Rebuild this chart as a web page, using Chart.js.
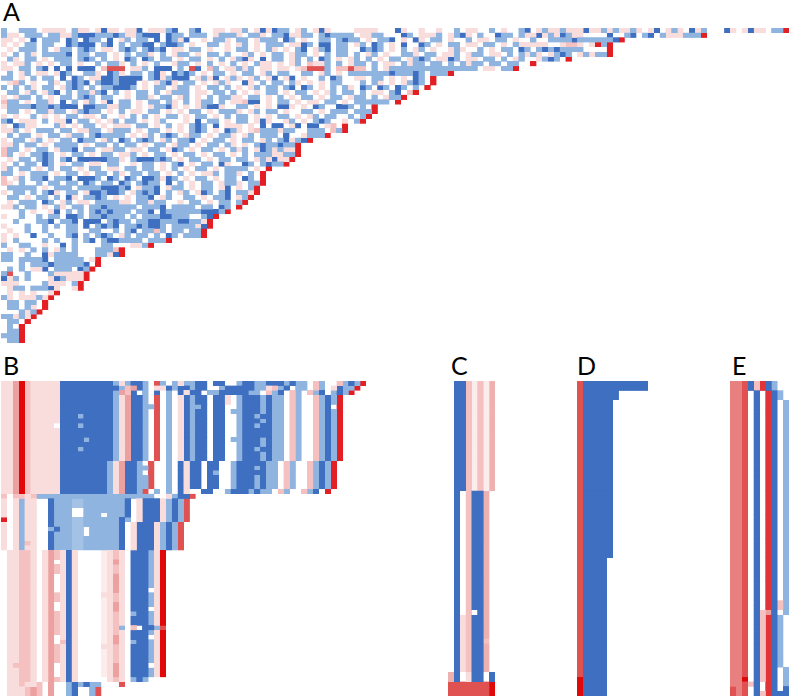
<!DOCTYPE html>
<html>
<head>
<meta charset="utf-8">
<script src="https://cdn.jsdelivr.net/npm/chart.js@4/dist/chart.umd.js"></script>
<style>
    html, body { margin: 0; padding: 0; background: #fff; }
    body { position: relative; width: 791px; height: 698px; overflow: hidden; }
    canvas { position: absolute; }
    .tag { position: absolute; font: 25px/28px Lato, sans-serif; color: #000; }
</style>
</head>
<body>
<div class="tag" style="left:3px;top:-3px">A</div>
<div class="tag" style="left:3px;top:351px">B</div>
<div class="tag" style="left:451px;top:351px">C</div>
<div class="tag" style="left:577px;top:351px">D</div>
<div class="tag" style="left:732px;top:351px">E</div>
<canvas id="chartA" width="788" height="315" style="left:1px;top:28px"></canvas>
<canvas id="chartB" width="365" height="315" style="left:1px;top:381px"></canvas>
<canvas id="chartC" width="47" height="315" style="left:448px;top:381px"></canvas>
<canvas id="chartD" width="71" height="315" style="left:577px;top:381px"></canvas>
<canvas id="chartE" width="59" height="315" style="left:730px;top:381px"></canvas>
<script>
// cell codes
const codes = {
    f: "#fcecec", a: "#f9dcdc", c: "#f4c0c0", h: "#efb0b0", d: "#eda0a0", i: "#e88080",
    e: "#e05252", j: "#e03438", r: "#e41f23", R: "#e00808",
    g: "#a3c2e6", b: "#8fb4e0", B: "#3f6fc0"
};

// Panel A: last (red) column per row
const aEnds = [133,119,105,103,103,103,96,90,87,76,73,73,72,70,68,67,63,63,62,61,58,58,55,52,50,50,50,49,48,45,44,44,44,43,43,42,41,40,38,36,35,35,34,34,28,25,20,20,16,16,15,14,14,13,13,9,8,7,7,6,5,4,3,3,3,3];

// Panel A: cells left of the red one, spaces only for counting
const aRows = [
    "b..bbb.aaa a.baa.aBaa .aaB.aaabB ..bB..aa.a ab.aBaBbb. ab.aBa.... aaaa...Ba. .a..a..b.a a..b.a.. bB.abaabaa aBaababaab a.aB.aba.B ab...Ba.aB aa.bb",
    "baa.bbb.bb aabBBBbbbB baabBBB.Bb b.bbb.abbb a.bba.bbBa abb.bBbbbb .aabb...Bb .aaab.abBa .b..Bbb. baaBabaBba a....B..bB .bB.baaabb b",
    "aa.a.B.bbb .Bb.Bbb.B. ab.bb.B.Bb aB..a.bba. bb.abbb.Bb .a..bb.bBb b.a.bbB.a. Ba.bb.a..b .aa.bb.a ..b..bbbbB bbbbbbB",
    "a.a.bb.bb. .BbBBB.bB. b.bbBB.bBB b.a..bb.a. ab.a.bbb.a aBb.BB.bb. ab.Bb.a.B. .Bb.a.bb.a a.bb.a.b aaaaa..acc a.arb",
    ".a.bbb.b.a bb.bBb.aa. bBb.bBbB.a a.bb.a..a. bb.a.ba.a. bB.abB.bb. .BbBb.a.b. ab.a..aba. .b.a.bb. Bb.bBbBbbb b....",
    "a.b.ba.bbb bB.bb.bb.a .b.bba.b.a bb.a.bb.b. .ab.a.bb.a bb.a.b.bb. b.ab.a..bb a.bb.aab.a bb.aa.b. baba.abBb. abab b",
    ".ba.bb.a.b bb.bBb.b.a .Bb.Bb.bb. a.bb.a.b.a bBa.B.bb.a b.b.Bb.a.a b.b.a.bb.a bBb.aaBb.a a.bb.b.a b..abBb.",
    "a.aab.a.a. bb.a..b.bb a.b.a.b..a bb.a.b.a.b .a.baa.a.a b.caab.b.a bb.b.aa.ba bb.bb.b.ba bb.bb.bb ..",
    "aa.bb.bB.B .B.BBB.cee e.aab.BBB. b.eB.cb.aa bab.aa.aa. aceeeb.cce cc.b.abbbb bbbbbbbbbb b.aa.bb",
    ".b.ab.aa.a Bb..bba.Bb a.bb.bBa.B bBb.a.bb.a .bb.ab.bb. .bb.ab.a.b bbbbbbBbbb Bb.bbb",
    "bb.a.b.bb. B.Bb.aaBBb BBBB.bBabB BB.abaB.ab a.ab.aB.aB .a..b.Bb.. aa.bb.a.a. Bb.",
    ".acb.a..ba .bBbB.bBBb BBB.a.abBa .bb.a.aba. .Ba.b.bb.b a.a.a.bb.. .b.ba.a.ab Bb.",
    "b.b.ba.bb. abBb.b.bbB BBb.a.bb.a bb.a.bb.b. a.ab.bb.bB .Bb.a.b.ba .Bb.Bb.Bb. b.",
    ".bb.ab.abB .b.bbabB.b .a.bb.b.ab bb.aa.bb.b .a.a.bb.a. bb.a.ab.bb .b.aa.bB.c",
    "a.abb.b.a. bb.bBb.bb. .a.bba.bb. ab.a.b.bba a.bb.a.b.a .bb.a.bb.a bb.b.abb",
    "cbb.a.bba. B.b.ab.aB. bb.a.bb.ba .b.abb.b.a acBB.a.bb. a.aa.bb.a. bbbbbb.",
    "abbbbBbbBb BBB.BBbbaa bb.a.abbBa .a.abBBa.. bb.a.a.BBa .a.Bb..BBb .b.",
    ".bb.a.bbab b.abBbb.a. b.aa.bb.a. a.bb.a.bbb a.ab.bb.a. .bb.a.bbb. bbb",
    "a.a..b.a.a .bb.aa.b.. a.b.b.a.bb .a.bb.a.b. bb.a.a.bb. a.ab.bb..b .b",
    "bB.aaa.b.a aB.bb.a.ab .bb.a.ab.. .a.B.bb.a. bb.aBa..ab .a.bBb..a. b",
    "a.Bbaa...b a.a.bb.a.a aa.bb.a.b. a.bBb.B.aa a.a.B.BB.a B.BB.ac.",
    "aab.a.bbb. bb.aabb.ab bb.a.bb.a. a.bBb.a.Bb a.acbbbabb ..bbb.cb",
    ".b.bb.a.bb .abb.bBbbb b.a.ab.bBb .abb.a.bba .ab.bbb.B. .abbb",
    "a.bb.ab.a. bb.Bbb.ab. Bb.bBb.ab. bbB.a.bb.a .bb.ab.bBa bB",
    "aab.bb.a.b bbb.a.bb.b .bb.a.bb.a bb.a.bb.ba .a.bBbbBbb",
    "cbb.a.bb.a bbB.bb.aab b.aa.bb.aB b.a.bb.a.b ab.aBbabaa",
    "cb.a.bbBb. a.bb.a.bb. aab.a.bb.a .bb.a.bb.a .b.bbbaabb",
    ".a.bb.bBb. bB.BBBBBbb a.bBBBbBb. a.bb.a.bb. bb.abaBaa",
    "a.b.bb.Bb. a.bb.aa.bb ..a.bb.a.b B.a.bb.Ba. .Bb.bBbb",
    "ab.bb.a.b. bb.a.bb.aa .bb.bb.a.b .a.bb.a.bb bb.a.",
    "bb.a.bbb.a .bb.a.bb.b a.bb.bb.a. b.a.aab.bb a.b.",
    "c.ab.bbB.b bB.BBBb.Bb .Bb.BBbaBb .a.bb.a.bb .Bb.",
    "ca.b..b.bb .bb.Bb.bb. Bb.bBbb.B. b.a.bb.abb a.bb",
    ".bbbbb.a.b bb.bbbbBBB bB.abbB.ab b.a.bb.aB. a.b",
    "a.bb.b.bBa .bb.aBBbBB b.abBbB.b. ab.aBb.bB. bba",
    ".bb.a.bb.b .Ba.bbBb.a .a.bbB.ab. .bb.a.bbB. ab",
    ".a.bbb.Bb. ab.aa.bbbb aa.bbabb.. a.bb.a.bb. b",
    "aab.bb.a.b a.bb.bbBbb bbb.bbbB.b bbb.bb.Bb.",
    "...b.a..aB .b.b.bBbBb bb.bbB.Bbb bbbbBBBb",
    "a..b..b.bb .BBb.bbBbb b.b.bbbBBb bb..bB",
    "..b...bbB. bbB.BBB.bB bb.bbBBbbb BBbba",
    "a...b..b.b .bb.B.bBbB .bbBbBBb.b bbbaB",
    ".a..b..b.. .bb..bb..b .bB.bbcb.b b.bb",
    "a.a..B..b. .bB.b.bBb. ab.bb.b.Bb .bbb",
    "a.b....b.b ..b.bB.bBB bbbb.bbb",
    "b..bb..a.. B.b....bb. ..aab",
    ".a.a.b.b.a b.b...bbbc",
    "bb..b..Bab bbb...bbaB",
    "bb.bbbbB.b bbbb.a",
    "...b.bbbBb bbbbB.",
    ".b.b.aaB.b bb.Bb",
    "be..b...ba aaaa",
    "Bab.b...aB baaa",
    "aaa....baa a.b",
    ".abb.bbbBa ..a",
    ".a.a.a..a",
    "ba.aaaba",
    ".bb.bb.",
    ".bb.ba.",
    "...bab",
    "bbaba",
    ".bb.",
    ".b.",
    ".bb",
    "bbb",
    ".bb"
];

// Panels B-E: [how many rows, cells]
const bRuns = [
    [1, "aadRcaaaaa BBBBBBBBBb abBBb.eb.b abbBB.BB.. bBBbbBBBbB bb.cb..cbB br"],
    [1, "aadRcaaaaa BBBBBBBBBB bcdBb.aaBb BBbBB..bBB BBBbbacbB. bb.cb.aBbb r"],
    [1, "aadRcaaaaa BBBBBBBBBb dcB.b.B.b. BaBB.bbBBB BBbb.cbB.c b.cbB.bBbr"],
    [14, "aadRcaaaaa BBBBBBBBBb adBBb.e.b. aBbBB.BB.. bBBBbBbb.c b..cbBbr"],
    [6, "aadRcaaaaa BBBBBBBBba dBBbbe..b. BaBB.BB..b BBBbBbb.cb ..cbBbr"],
    [1, "aadRcaaaaa BBBBBBBBba dBBbe.b.b. Ba..BB..bB BBbBbb.cb. .cbB.r"],
    [1, "c.ccacbbbb bbbbbbbbbb bbbbbb..ab BBe"],
    [4, "a.abaa..Bb bbggbbbbbb bB.aBBBabB be"],
    [1, "r.abaa..Bb bbggbbbbbb Bb.aBBBabB be"],
    [6, "a.abaa..Bb bbggbbbbbb B.aBBBabBb e"],
    [2, ".aacca.adc aBa....fac a.BBBbaR"],
    [1, ".aacca.ad. aBa....fad a.BBBbaR"],
    [2, ".aacca.adc aBa....fac a.BBBbaR"],
    [4, ".aacca.ad. aBa....fad a.BBBbaR"],
    [2, ".aacca.adc aBa....fac a.BBBbaR"],
    [2, ".aacca.ad. aBa....fad a.BBBbaR"],
    [3, ".aacca.adc aBa....fac a.BBBbaR"],
    [1, ".aacca.adc aBa....fac ..c.BbaR"],
    [1, ".aacca.adc aBa....fac a.BBBbaR"],
    [2, ".aacca.ad. aBa....fad a.BBBbaR"],
    [4, ".aacca.adc aBa....fac a.BBBbaR"],
    [3, ".aacca.ad. aBa....fad a.BBBbaR"],
    [1, ".aacca.adc aBa.....ac a.bBb"],
    [1, ".aacaac.d. .bBbBbb... e"],
    [2, ".aaacdc.d. .bB..be"]
];
const cRuns = [
    [23, ".BBcfcfh"],
    [26, ".B.cBBh."],
    [12, ".BacBBh."],
    [2, "hB.aBB.B"],
    [3, "eeeeeeeR"]
];
const dRuns = [
    [2, "eBBBBBBBBBBB"],
    [2, "eBBBBBB"],
    [33, "eBBBBB"],
    [25, "eBBBB"],
    [4, "RBBBB"]
];
const eRuns = [
    [2, "iieBcjBb"],
    [2, "iie.B.jBb"],
    [42, "iie.B.jB.b"],
    [2, "iie.B.jBcb"],
    [1, "iie.BcdB.b"],
    [11, "iie.BcjBb"],
    [2, "iie.BcjB.b"],
    [1, "iiR.BcjB.b"],
    [1, "iiecB.jB.b"],
    [1, "eie.B.jB.B"],
    [1, "eie.BcjBBB"]
];

// single cells that differ from their run: [row, column, code]
const aFixes = [[3, 101, "r"]];
const bFixes = [
    [7,13,"b"],[9,13,"b"],[12,14,"b"],[14,13,"b"],[9,9,"."],[5,33,"b"],[3,38,"a"],[4,38,"a"],
    [6,39,"b"],[12,39,"b"],[7,43,"b"],[9,43,"b"],[14,43,"b"],[8,44,"b"],[12,44,"b"],[13,44,"b"],
    [7,44,"B"],[9,44,"B"],[10,44,"B"],[11,44,"B"],[14,44,"B"],[5,56,"."],[5,25,"b"],
    [17,24,"."],[19,24,"."],[19,36,"b"],[17,43,"B"],[19,43,"B"],
    [27,12,"."],[27,13,"."],[28,12,"."],[28,13,"."],[28,17,"."],
    [31,8,"b"],[31,9,"B"],[31,14,"."],[32,14,"."],[34,4,"c"],
    [44,25,"."],[48,25,"."],[54,25,"."],[60,25,"."],[55,10,"c"],[45,17,"a"],[56,17,"a"],
    [49,22,"b"],[55,22,"b"],[60,2,"c"],[52,20,"b"],[52,25,"B"],[52,26,"b"],[52,27,"e"]
];
const cFixes = [[48,4,"."],[54,6,"c"]];

function expandRuns(runs) {
    const rows = [];
    runs.forEach(([count, cells]) => {
        for (let i = 0; i < count; i++) rows.push(cells.replace(/ /g, ""));
    });
    return rows;
}

function applyFixes(rows, fixes) {
    return rows.map((row, r) => {
        const cells = row.split("");
        fixes.forEach(([fr, fc, code]) => { if (fr === r) cells[fc] = code; });
        return cells.join("");
    });
}

// one dataset per colour, neighbouring cells of a colour merged into one floating bar
function drawPanel(canvasId, rows, columns) {
    const labels = rows.map((row, r) => String(r));
    const byCode = {};
    rows.forEach((row, r) => {
        let start = 0;
        for (let c = 1; c <= row.length; c++) {
            if (row[c] !== row[start]) {
                if (row[start] !== ".") {
                    (byCode[row[start]] = byCode[row[start]] || []).push({ x: [start, c + 0.05], y: String(r) });
                }
                start = c;
            }
        }
    });
    const datasets = Object.keys(byCode).map(code => ({
        data: byCode[code],
        backgroundColor: codes[code],
        borderWidth: 0,
        barPercentage: 1.06,
        categoryPercentage: 1,
        grouped: false
    }));
    new Chart(document.getElementById(canvasId).getContext("2d"), {
        type: "bar",
        data: { labels: labels, datasets: datasets },
        options: {
            indexAxis: "y",
            responsive: false,
            maintainAspectRatio: false,
            animation: false,
            devicePixelRatio: 4,
            layout: { padding: 0 },
            plugins: { legend: { display: false }, tooltip: { enabled: false } },
            scales: {
                x: { type: "linear", min: 0, max: columns, display: false },
                y: { type: "category", reverse: false, display: false }
            }
        }
    });
}

document.addEventListener("DOMContentLoaded", () => {
    const aCells = aRows.map((row, r) => row.replace(/ /g, "").padEnd(aEnds[r], ".").slice(0, aEnds[r]) + "r");
    drawPanel("chartA", applyFixes(aCells, aFixes), 134);
    drawPanel("chartB", applyFixes(expandRuns(bRuns), bFixes), 62);
    drawPanel("chartC", applyFixes(expandRuns(cRuns), cFixes), 8);
    drawPanel("chartD", expandRuns(dRuns), 12);
    drawPanel("chartE", expandRuns(eRuns), 10);
});
</script>
</body>
</html>
